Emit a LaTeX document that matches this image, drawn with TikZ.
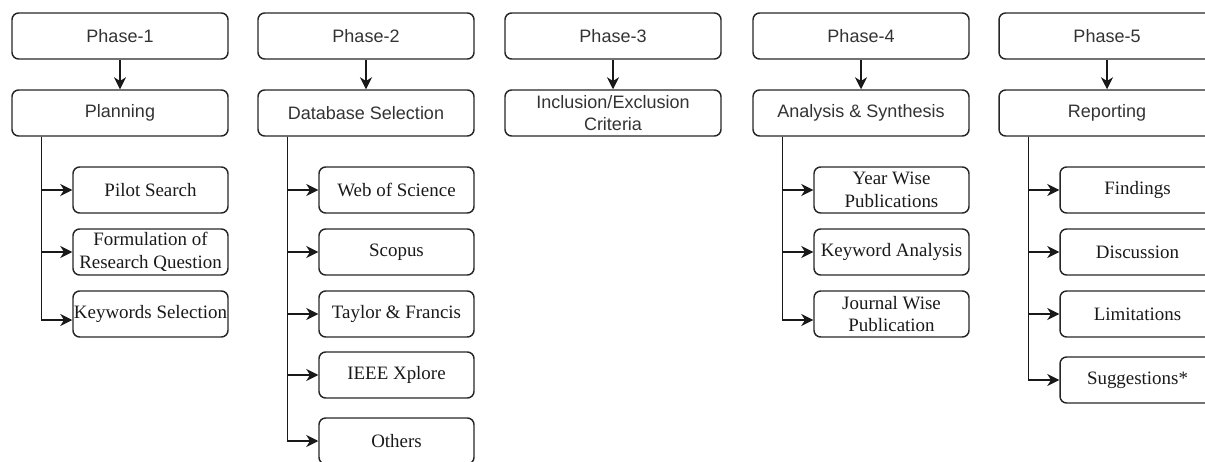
\documentclass[tikz,border=0pt]{standalone}
\usepackage{fontspec}
\setmainfont{Liberation Serif}
\setsansfont{Liberation Sans}
\usetikzlibrary{arrows.meta,calc}

\tikzset{
  box/.style={draw=black!85, line width=1.1pt, rounded corners=5pt, inner sep=0pt,
    align=center, text=black!80},
  phasebox/.style={box, minimum width=162pt, minimum height=34.5pt,
    font=\sffamily\fontsize{13.5pt}{16.5pt}\selectfont},
  itembox/.style={box, minimum width=116.25pt, minimum height=34.5pt, text=black!90,
    font=\fontsize{14.2pt}{16.8pt}\selectfont},
  link/.style={draw=black!90, line width=1.1pt, -{Stealth[length=9pt,width=9pt,inset=2.8pt]}}
}

\begin{document}
\begin{tikzpicture}[x=0.75pt, y=-0.75pt]
\useasboundingbox (0,0) rectangle (1205,461);
\clip (0,0) rectangle (1205,461);

% ---- phase headers and their main steps ----
\foreach \i/\L/\txt in {1/12/Planning, 2/258/Database Selection,
                         3/505/{Inclusion/Exclusion\\Criteria},
                         4/753/Analysis \& Synthesis, 5/999/Reporting}{
  \node[phasebox] (p\i) at (\L+108,36) {Phase-\i};
  \node[phasebox] (m\i) at (\L+108,113) {\txt};
  \draw[link] (p\i) -- (m\i);
  \coordinate (t\i) at ($(m\i.south west)+(30,0)$);
}

% ---- Phase 1: planning ----
\node[itembox] (a1) at (12+138.5,190) {Pilot Search};
\node[itembox] (a2) at (12+138.5,252) {Formulation of\\Research Question};
\node[itembox] (a3) at (12+138.5,314) {Keywords Selection};
\draw[link] (t1) |- (a1.west);
\draw[link] (t1) |- (a2.west);
\draw[link] (t1) |- ($(a3.west)+(0,6)$);

% ---- Phase 2: databases ----
\node[itembox] (b1) at (258+138.5,190) {Web of Science};
\node[itembox] (b2) at (258+138.5,252) {Scopus};
\node[itembox] (b3) at (258+138.5,314) {Taylor \& Francis};
\node[itembox] (b4) at (258+138.5,375) {IEEE Xplore};
\node[itembox] (b5) at (258+138.5,441) {Others};
\foreach \k in {1,...,5}{ \draw[link] (t2) |- (b\k.west); }

% ---- Phase 4: analysis ----
\node[itembox] (d1) at (753+138.5,190) {Year Wise\\Publications};
\node[itembox] (d2) at (753+138.5,252) {Keyword Analysis};
\node[itembox] (d3) at (753+138.5,314) {Journal Wise\\Publication};
\draw[link] (t4) |- (d1.west);
\draw[link] (t4) |- (d2.west);
\draw[link] (t4) |- ($(d3.west)+(0,6)$);

% ---- Phase 5: reporting ----
\node[itembox] (e1) at (999+138.5,190) {Findings};
\node[itembox] (e2) at (999+138.5,252) {Discussion};
\node[itembox] (e3) at (999+138.5,314) {Limitations};
\node[itembox] (e4) at (999+138.5,380) {Suggestions*};
\foreach \k in {1,...,4}{ \draw[link] (t5) |- (e\k.west); }
\end{tikzpicture}
\end{document}
